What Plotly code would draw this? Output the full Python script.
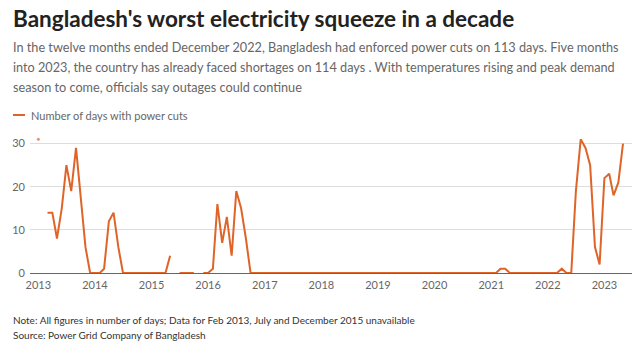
import pandas as pd
import plotly.graph_objects as go

# ---- data (monthly, Jan 2013 - May 2023); None = unavailable ----
y2013 = [31, None, 14, 14, 8, 15, 25, 19, 29, 17, 6, 0]
y2014 = [0, 0, 1, 12, 14, 6, 0, 0, 0, 0, 0, 0]
y2015 = [0, 0, 0, 0, 4, None, 0, 0, 0, 0, None, 0]
y2016 = [0, 1, 16, 7, 13, 4, 19, 15, 8, 0, 0, 0]
y2017 = [0, 0, 0, 0, 0, 0, 0, 0, 0, 0, 0, 0]
y2018 = [0, 0, 0, 0, 0, 0, 0, 0, 0, 0, 0, 0]
y2019 = [0, 0, 0, 0, 0, 0, 0, 0, 0, 0, 0, 0]
y2020 = [0, 0, 0, 0, 0, 0, 0, 0, 0, 0, 0, 0]
y2021 = [0, 0, 1, 1, 0, 0, 0, 0, 0, 0, 0, 0]
y2022 = [0, 0, 0, 1, 0, 0, 19, 31, 29, 25, 6, 2]
y2023 = [22, 23, 18, 21, 30]

values = (y2013 + y2014 + y2015 + y2016 + y2017 + y2018 + y2019 + y2020
          + y2021 + y2022 + y2023)
months = pd.date_range("2013-01-01", periods=len(values), freq="MS")

year_ticks = [f"{y}-01-01" for y in range(2013, 2024)]
year_labels = [str(y) for y in range(2013, 2024)]
y_ticks = [0, 10, 20, 30]

series_name = "Number of days with power cuts"
title = "Bangladesh's worst electricity squeeze in a decade"
subtitle = [
    "In the twelve months ended December 2022, Bangladesh had enforced power cuts on 113 days. Five months",
    "into 2023, the country has already faced shortages on 114 days . With temperatures rising and peak demand",
    "season to come, officials say outages could continue",
]
note = "Note: All figures in number of days; Data for Feb 2013, July and December 2015 unavailable"
source = "Source: Power Grid Company of Bangladesh"

ORANGE = "#DF6428"
FONT = "Lato"

# isolated points (no neighbours) get a small marker so they stay visible
sizes = []
for i, v in enumerate(values):
    prev_ = values[i - 1] if i > 0 else None
    next_ = values[i + 1] if i < len(values) - 1 else None
    sizes.append(3 if (v is not None and prev_ is None and next_ is None) else 0)

W, H = 638, 348
L, R, T, B = 30, 6, 135, 75
PW = W - L - R
PH = H - T - B


def px_x(px):
    return (px - L) / PW


def px_y(py):
    return (H - B - py) / PH


fig = go.Figure()
fig.add_trace(go.Scatter(
    x=months, y=values, mode="lines+markers", name=series_name,
    line=dict(color=ORANGE, width=2),
    marker=dict(color=ORANGE, size=sizes, line=dict(width=0)),
    connectgaps=False, showlegend=False, hoverinfo="skip",
))

ann = []
ann.append(dict(text=f"<b>{title}</b>", x=px_x(11), y=px_y(18), xanchor="left", yanchor="middle",
                font=dict(family=FONT, size=22.5, color="#222222")))
for i, line in enumerate(subtitle):
    ann.append(dict(text=line, x=px_x(11), y=px_y(47 + 20 * i), xanchor="left", yanchor="middle",
                    font=dict(family=FONT, size=12.7, color="#666666")))
ann.append(dict(text=series_name, x=px_x(29), y=px_y(115), xanchor="left", yanchor="middle",
                font=dict(family=FONT, size=11, color="#666666")))
ann.append(dict(text=note, x=px_x(11), y=px_y(320), xanchor="left", yanchor="middle",
                font=dict(family=FONT, size=10, color="#333333")))
ann.append(dict(text=source, x=px_x(11), y=px_y(335), xanchor="left", yanchor="middle",
                font=dict(family=FONT, size=10, color="#333333")))
for a in ann:
    a.update(xref="paper", yref="paper", showarrow=False, align="left")

shapes = [dict(type="line", xref="paper", yref="paper",
               x0=px_x(13), x1=px_x(25), y0=px_y(115), y1=px_y(115),
               line=dict(color=ORANGE, width=2))]

fig.update_layout(
    width=W, height=H, margin=dict(l=L, r=R, t=T, b=B),
    paper_bgcolor="white", plot_bgcolor="white",
    annotations=ann, shapes=shapes,
    font=dict(family=FONT, color="#666666"),
    xaxis=dict(type="date", range=["2012-11-08", "2023-06-28"],
               tickvals=year_ticks, ticktext=year_labels,
               showgrid=False, zeroline=False, showline=False, ticks="",
               ticklabelstandoff=4,
               tickfont=dict(family=FONT, size=11, color="#666666")),
    yaxis=dict(range=[0, 32], tickvals=y_ticks, showgrid=True, gridcolor="#dddddd", gridwidth=1,
               zeroline=True, zerolinecolor="#666666", zerolinewidth=1, showline=False, ticks="",
               ticklabelstandoff=4,
               tickfont=dict(family=FONT, size=11, color="#666666")),
)

fig.write_html("out.html")
